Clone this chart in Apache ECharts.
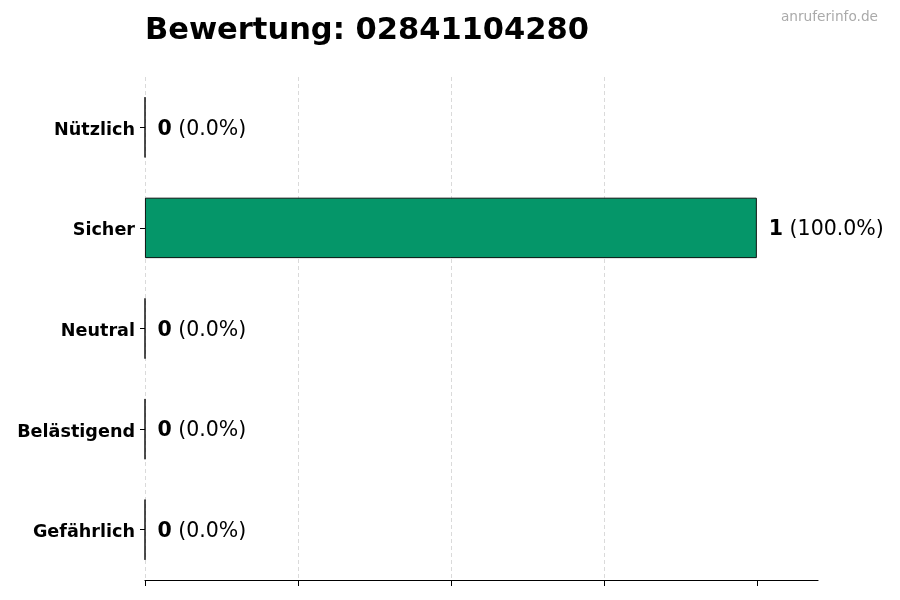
<!DOCTYPE html>
<html>
<head>
<meta charset="utf-8">
<script src="https://cdn.jsdelivr.net/npm/echarts@6/dist/echarts.min.js"></script>
<style>
  html, body { margin: 0; padding: 0; background: #fff; }
  #chart_view { width: 900px; height: 600px; }
</style>
</head>
<body>
<div id="chart_view"></div>
<script>
// data
var categories = ['Nützlich', 'Sicher', 'Neutral', 'Belästigend', 'Gefährlich'];
var counts = [0, 1, 0, 0, 0];
var percents = ['0.0%', '100.0%', '0.0%', '0.0%', '0.0%'];
var xTicks = [0, 0.25, 0.5, 0.75, 1.0];

var font = 'DejaVu Sans';
var myChart = echarts.init(document.getElementById('chart_view'));

var option = {
    animation: false,
    backgroundColor: '#fff',
    textStyle: { fontFamily: font },
    title: [{
        text: 'Bewertung: 02841104280',
        left: 145,
        top: 16,
        padding: 0,
        textStyle: { fontFamily: font, fontSize: 30.5, fontWeight: 'bold', color: '#000' }
    }, {
        text: 'anruferinfo.de',
        right: 22,
        top: 10,
        padding: 0,
        textStyle: { fontFamily: font, fontSize: 13.7, fontWeight: 'normal', color: '#aaa' }
    }],
    grid: { left: 145, right: 82, top: 77, bottom: 20, containLabel: false },
    xAxis: {
        type: 'value',
        min: 0,
        max: 1.1,
        interval: xTicks[1] - xTicks[0],
        axisLine: { show: true, lineStyle: { color: '#000', width: 1.2 } },
        axisTick: { show: true, length: 6, lineStyle: { color: '#000' },
            customValues: xTicks },
        axisLabel: { show: false },
        splitLine: { show: true, lineStyle: { color: '#d0d0d0', type: [4, 3], width: 0.8 },
            showMinLine: true, showMaxLine: false }
    },
    yAxis: {
        type: 'category',
        data: categories,
        inverse: true,
        axisLine: { show: false },
        axisTick: { show: true, alignWithLabel: true, length: 5, lineStyle: { color: '#000' } },
        axisLabel: {
            margin: 10,
            formatter: '{c|{value}}',
            rich: {
                c: { fontFamily: font, fontSize: 17.6, fontWeight: 'bold', color: '#000',
                    padding: [6, 0, 0, 0] }
            }
        },
        splitLine: { show: false }
    },
    series: [{
        type: 'bar',
        data: counts,
        barWidth: '60%',
        itemStyle: { color: '#059669', borderColor: '#000', borderWidth: 0.9 },
        label: {
            show: true,
            position: 'right',
            distance: 12,
            padding: [4, 0, 0, 0],
            formatter: function (p) {
                return '{b|' + p.value + '}{n| (' + percents[p.dataIndex] + ')}';
            },
            rich: {
                b: { fontFamily: font, fontSize: 20.5, fontWeight: 'bold', color: '#000' },
                n: { fontFamily: font, fontSize: 20.5, color: '#000' }
            }
        }
    }]
};

myChart.setOption(option);
</script>
</body>
</html>
